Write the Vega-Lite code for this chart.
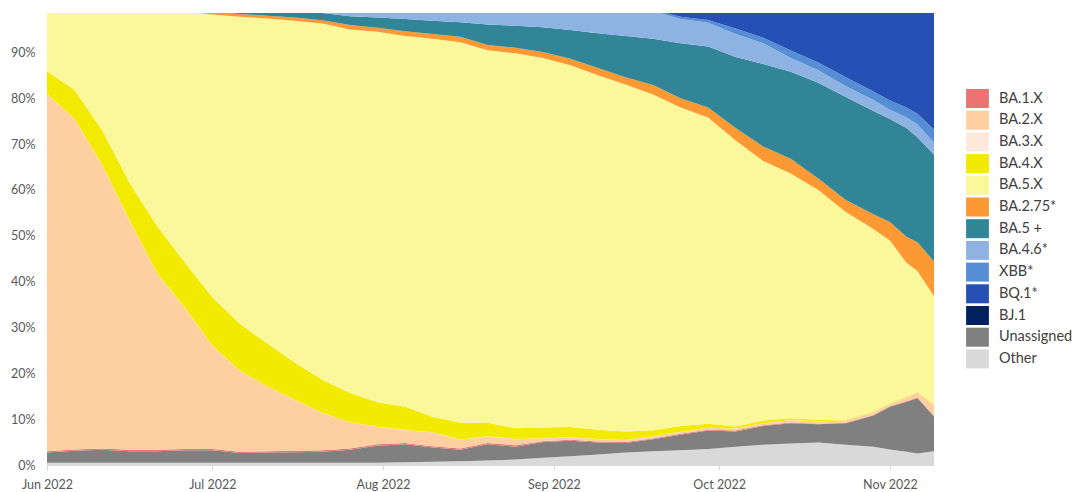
{
  "$schema": "https://vega.github.io/schema/vega-lite/v6.json",
  "width": 887,
  "height": 452,
  "autosize": {"type": "none"},
  "padding": {"left": 47, "top": 13, "right": 140, "bottom": 27},
  "background": "white",
  "config": {"view": {"stroke": null}, "font": "Lato"},
  "data": {
    "values": [
      {"date": "2022-06-01", "other": 0.5, "unassigned": 2.2, "ba1": 0.3, "ba2": 77.9, "ba3": 0.05, "ba4": 4.95, "ba5": 14.1, "ba275": 0, "ba5plus": 0, "ba46": 0, "xbb": 0, "bq1": 0, "bj1": 0},
      {"date": "2022-06-06", "other": 0.5, "unassigned": 2.6, "ba1": 0.3, "ba2": 72.1, "ba3": 0.05, "ba4": 6.25, "ba5": 18.2, "ba275": 0, "ba5plus": 0, "ba46": 0, "xbb": 0, "bq1": 0, "bj1": 0},
      {"date": "2022-06-11", "other": 0.5, "unassigned": 2.8, "ba1": 0.3, "ba2": 61.9, "ba3": 0.05, "ba4": 7.45, "ba5": 27.0, "ba275": 0, "ba5plus": 0, "ba46": 0, "xbb": 0, "bq1": 0, "bj1": 0},
      {"date": "2022-06-16", "other": 0.5, "unassigned": 2.5, "ba1": 0.3, "ba2": 50.0, "ba3": 0.05, "ba4": 8.15, "ba5": 38.5, "ba275": 0, "ba5plus": 0, "ba46": 0, "xbb": 0, "bq1": 0, "bj1": 0},
      {"date": "2022-06-21", "other": 0.5, "unassigned": 2.5, "ba1": 0.3, "ba2": 38.5, "ba3": 0.05, "ba4": 10.25, "ba5": 47.9, "ba275": 0, "ba5plus": 0, "ba46": 0, "xbb": 0, "bq1": 0, "bj1": 0},
      {"date": "2022-06-26", "other": 0.5, "unassigned": 2.7, "ba1": 0.3, "ba2": 30.8, "ba3": 0.05, "ba4": 9.85, "ba5": 54.7, "ba275": 0.6, "ba5plus": 0.4, "ba46": 0.1, "xbb": 0, "bq1": 0, "bj1": 0},
      {"date": "2022-07-01", "other": 0.5, "unassigned": 2.7, "ba1": 0.3, "ba2": 22.5, "ba3": 0.05, "ba4": 10.55, "ba5": 61.7, "ba275": 0.6, "ba5plus": 0.8, "ba46": 0.3, "xbb": 0, "bq1": 0, "bj1": 0},
      {"date": "2022-07-06", "other": 0.5, "unassigned": 2.1, "ba1": 0.3, "ba2": 17.6, "ba3": 0.05, "ba4": 10.25, "ba5": 67.0, "ba275": 0.6, "ba5plus": 1.0, "ba46": 0.6, "xbb": 0, "bq1": 0, "bj1": 0},
      {"date": "2022-07-11", "other": 0.5, "unassigned": 2.2, "ba1": 0.3, "ba2": 14.1, "ba3": 0.05, "ba4": 9.35, "ba5": 70.9, "ba275": 0.6, "ba5plus": 1.2, "ba46": 0.8, "xbb": 0, "bq1": 0, "bj1": 0},
      {"date": "2022-07-16", "other": 0.5, "unassigned": 2.3, "ba1": 0.3, "ba2": 11.1, "ba3": 0.05, "ba4": 8.05, "ba5": 74.6, "ba275": 0.7, "ba5plus": 1.4, "ba46": 1.0, "xbb": 0, "bq1": 0, "bj1": 0},
      {"date": "2022-07-21", "other": 0.5, "unassigned": 2.4, "ba1": 0.3, "ba2": 8.1, "ba3": 0.05, "ba4": 7.25, "ba5": 77.7, "ba275": 0.7, "ba5plus": 1.6, "ba46": 1.4, "xbb": 0, "bq1": 0, "bj1": 0},
      {"date": "2022-07-26", "other": 0.5, "unassigned": 2.8, "ba1": 0.3, "ba2": 5.7, "ba3": 0.05, "ba4": 6.35, "ba5": 79.3, "ba275": 1.0, "ba5plus": 1.9, "ba46": 2.1, "xbb": 0, "bq1": 0, "bj1": 0},
      {"date": "2022-07-31", "other": 0.5, "unassigned": 3.7, "ba1": 0.3, "ba2": 3.8, "ba3": 0.05, "ba4": 5.35, "ba5": 80.8, "ba275": 0.9, "ba5plus": 2.2, "ba46": 2.4, "xbb": 0, "bq1": 0, "bj1": 0},
      {"date": "2022-08-05", "other": 0.6, "unassigned": 3.9, "ba1": 0.3, "ba2": 2.8, "ba3": 0.05, "ba4": 5.05, "ba5": 80.9, "ba275": 1.0, "ba5plus": 2.7, "ba46": 2.7, "xbb": 0, "bq1": 0, "bj1": 0},
      {"date": "2022-08-10", "other": 0.7, "unassigned": 3.1, "ba1": 0.3, "ba2": 3.0, "ba3": 0.05, "ba4": 3.35, "ba5": 82.5, "ba275": 1.0, "ba5plus": 2.9, "ba46": 3.1, "xbb": 0, "bq1": 0, "bj1": 0},
      {"date": "2022-08-15", "other": 0.8, "unassigned": 2.5, "ba1": 0.3, "ba2": 1.9, "ba3": 0.05, "ba4": 3.65, "ba5": 83.0, "ba275": 1.2, "ba5plus": 3.2, "ba46": 3.4, "xbb": 0, "bq1": 0, "bj1": 0},
      {"date": "2022-08-20", "other": 1.0, "unassigned": 3.5, "ba1": 0.3, "ba2": 1.4, "ba3": 0.05, "ba4": 2.95, "ba5": 81.3, "ba275": 1.1, "ba5plus": 4.5, "ba46": 3.9, "xbb": 0, "bq1": 0, "bj1": 0},
      {"date": "2022-08-25", "other": 1.2, "unassigned": 2.8, "ba1": 0.3, "ba2": 1.3, "ba3": 0.05, "ba4": 2.35, "ba5": 81.8, "ba275": 1.2, "ba5plus": 4.8, "ba46": 4.2, "xbb": 0, "bq1": 0, "bj1": 0},
      {"date": "2022-08-30", "other": 1.6, "unassigned": 3.4, "ba1": 0.2, "ba2": 0.6, "ba3": 0.05, "ba4": 2.35, "ba5": 80.6, "ba275": 1.3, "ba5plus": 5.4, "ba46": 4.5, "xbb": 0, "bq1": 0, "bj1": 0},
      {"date": "2022-09-04", "other": 1.9, "unassigned": 3.4, "ba1": 0.2, "ba2": 0.5, "ba3": 0.05, "ba4": 2.25, "ba5": 78.9, "ba275": 1.4, "ba5plus": 6.3, "ba46": 5.1, "xbb": 0, "bq1": 0, "bj1": 0},
      {"date": "2022-09-09", "other": 2.3, "unassigned": 2.6, "ba1": 0.2, "ba2": 0.5, "ba3": 0.05, "ba4": 2.05, "ba5": 77.3, "ba275": 1.6, "ba5plus": 7.6, "ba46": 5.8, "xbb": 0, "bq1": 0, "bj1": 0},
      {"date": "2022-09-14", "other": 2.7, "unassigned": 2.1, "ba1": 0.2, "ba2": 0.4, "ba3": 0.05, "ba4": 1.85, "ba5": 75.7, "ba275": 1.6, "ba5plus": 9.0, "ba46": 6.4, "xbb": 0, "bq1": 0, "bj1": 0},
      {"date": "2022-09-19", "other": 3.0, "unassigned": 2.6, "ba1": 0.2, "ba2": 0.4, "ba3": 0.05, "ba4": 1.35, "ba5": 73.2, "ba275": 2.1, "ba5plus": 10.1, "ba46": 6.0, "xbb": 0.3, "bq1": 0.7, "bj1": 0},
      {"date": "2022-09-24", "other": 3.2, "unassigned": 3.4, "ba1": 0.2, "ba2": 0.4, "ba3": 0.05, "ba4": 1.25, "ba5": 69.5, "ba275": 2.0, "ba5plus": 12.0, "ba46": 5.3, "xbb": 0.5, "bq1": 2.2, "bj1": 0},
      {"date": "2022-09-29", "other": 3.5, "unassigned": 4.0, "ba1": 0.2, "ba2": 0.4, "ba3": 0.05, "ba4": 0.85, "ba5": 66.8, "ba275": 2.2, "ba5plus": 13.3, "ba46": 5.2, "xbb": 0.6, "bq1": 2.9, "bj1": 0},
      {"date": "2022-10-04", "other": 4.0, "unassigned": 3.3, "ba1": 0.2, "ba2": 0.4, "ba3": 0.05, "ba4": 0.45, "ba5": 62.4, "ba275": 2.7, "ba5plus": 15.5, "ba46": 5.0, "xbb": 1.2, "bq1": 4.8, "bj1": 0},
      {"date": "2022-10-09", "other": 4.4, "unassigned": 4.1, "ba1": 0.15, "ba2": 0.4, "ba3": 0.05, "ba4": 0.6, "ba5": 56.6, "ba275": 3.2, "ba5plus": 18.0, "ba46": 4.5, "xbb": 1.2, "bq1": 6.8, "bj1": 0},
      {"date": "2022-10-14", "other": 4.7, "unassigned": 4.4, "ba1": 0.15, "ba2": 0.5, "ba3": 0.05, "ba4": 0.4, "ba5": 53.4, "ba275": 3.2, "ba5plus": 19.0, "ba46": 3.0, "xbb": 1.6, "bq1": 9.6, "bj1": 0},
      {"date": "2022-10-19", "other": 4.9, "unassigned": 4.0, "ba1": 0.1, "ba2": 0.5, "ba3": 0.05, "ba4": 0.3, "ba5": 50.15, "ba275": 2.5, "ba5plus": 20.9, "ba46": 2.7, "xbb": 1.7, "bq1": 12.2, "bj1": 0},
      {"date": "2022-10-24", "other": 4.4, "unassigned": 4.7, "ba1": 0.1, "ba2": 0.5, "ba3": 0.05, "ba4": 0.2, "ba5": 45.25, "ba275": 2.6, "ba5plus": 22.5, "ba46": 2.3, "xbb": 2.0, "bq1": 15.4, "bj1": 0},
      {"date": "2022-10-29", "other": 4.0, "unassigned": 6.8, "ba1": 0.1, "ba2": 0.6, "ba3": 0.05, "ba4": 0.2, "ba5": 39.75, "ba275": 3.2, "ba5plus": 22.5, "ba46": 2.4, "xbb": 1.9, "bq1": 18.5, "bj1": 0},
      {"date": "2022-11-01", "other": 3.4, "unassigned": 9.3, "ba1": 0.1, "ba2": 0.5, "ba3": 0.05, "ba4": 0.15, "ba5": 35.5, "ba275": 4.0, "ba5plus": 22.5, "ba46": 2.0, "xbb": 2.0, "bq1": 20.5, "bj1": 0},
      {"date": "2022-11-04", "other": 2.9, "unassigned": 10.9, "ba1": 0.1, "ba2": 0.8, "ba3": 0.05, "ba4": 0.15, "ba5": 29.2, "ba275": 5.7, "ba5plus": 23.7, "ba46": 2.3, "xbb": 2.2, "bq1": 22.0, "bj1": 0},
      {"date": "2022-11-06", "other": 2.5, "unassigned": 12.1, "ba1": 0.1, "ba2": 1.1, "ba3": 0.05, "ba4": 0.15, "ba5": 26.3, "ba275": 6.3, "ba5plus": 22.9, "ba46": 2.8, "xbb": 2.3, "bq1": 23.4, "bj1": 0},
      {"date": "2022-11-09", "other": 3.0, "unassigned": 7.6, "ba1": 0.1, "ba2": 2.4, "ba3": 0.05, "ba4": 0.15, "ba5": 23.5, "ba275": 7.6, "ba5plus": 23.3, "ba46": 2.6, "xbb": 2.9, "bq1": 26.8, "bj1": 0}
    ]
  },
  "transform": [
    {"fold": ["other", "unassigned", "ba1", "ba2", "ba3", "ba4", "ba5", "ba275", "ba5plus", "ba46", "xbb", "bq1", "bj1"], "as": ["key", "share"]},
    {"calculate": "indexof(['other','unassigned','ba1','ba2','ba3','ba4','ba5','ba275','ba5plus','ba46','xbb','bq1','bj1'], datum.key)", "as": "rank"},
    {"calculate": "['Other','Unassigned','BA.1.X','BA.2.X','BA.3.X','BA.4.X','BA.5.X','BA.2.75*','BA.5 +','BA.4.6*','XBB*','BQ.1*','BJ.1'][datum.rank]", "as": "variant"}
  ],
  "mark": {"type": "area", "clip": true, "interpolate": "linear"},
  "encoding": {
    "x": {
      "field": "date",
      "type": "temporal",
      "scale": {"type": "utc", "nice": false},
      "axis": {
        "title": null,
        "format": "%b %Y",
        "tickCount": "month",
        "labelFlush": false,
        "labelOverlap": false,
        "grid": false,
        "domainColor": "#d9d9d9",
        "tickColor": "#d9d9d9",
        "tickSize": 5,
        "labelPadding": 8,
        "labelFontSize": 12.5,
        "labelColor": "#595959",
        "labelFont": "Lato"
      }
    },
    "y": {
      "field": "share",
      "type": "quantitative",
      "stack": "zero",
      "scale": {"domain": [0, 98.6], "nice": false},
      "axis": {
        "title": null,
        "values": [0, 10, 20, 30, 40, 50, 60, 70, 80, 90],
        "labelExpr": "datum.value + '%'",
        "ticks": false,
        "grid": false,
        "domainColor": "#d9d9d9",
        "labelPadding": 12,
        "labelFontSize": 12.5,
        "labelColor": "#595959",
        "labelFont": "Lato"
      }
    },
    "color": {
      "field": "variant",
      "type": "nominal",
      "scale": {
        "domain": ["BA.1.X", "BA.2.X", "BA.3.X", "BA.4.X", "BA.5.X", "BA.2.75*", "BA.5 +", "BA.4.6*", "XBB*", "BQ.1*", "BJ.1", "Unassigned", "Other"],
        "range": ["#EC7372", "#FECFA1", "#FDE9DB", "#F2EA00", "#FBF79B", "#FD9933", "#318597", "#8EB3E3", "#568ED6", "#2650B3", "#002060", "#808080", "#D9D9D9"]
      },
      "legend": {
        "title": null,
        "orient": "none",
        "legendX": 921,
        "legendY": 76,
        "padding": 0,
        "symbolType": "M-1.2,-1H1.2V1H-1.2Z",
        "symbolSize": 361,
        "symbolStrokeWidth": 0,
        "symbolOpacity": 1,
        "rowPadding": 2.7,
        "labelFontSize": 14.5,
        "labelFont": "Lato",
        "labelColor": "#404040",
        "labelOffset": 12,
        "labelBaseline": "middle",
        "labelLimit": 200
      }
    },
    "order": {"field": "rank", "type": "quantitative", "sort": "ascending"}
  }
}
